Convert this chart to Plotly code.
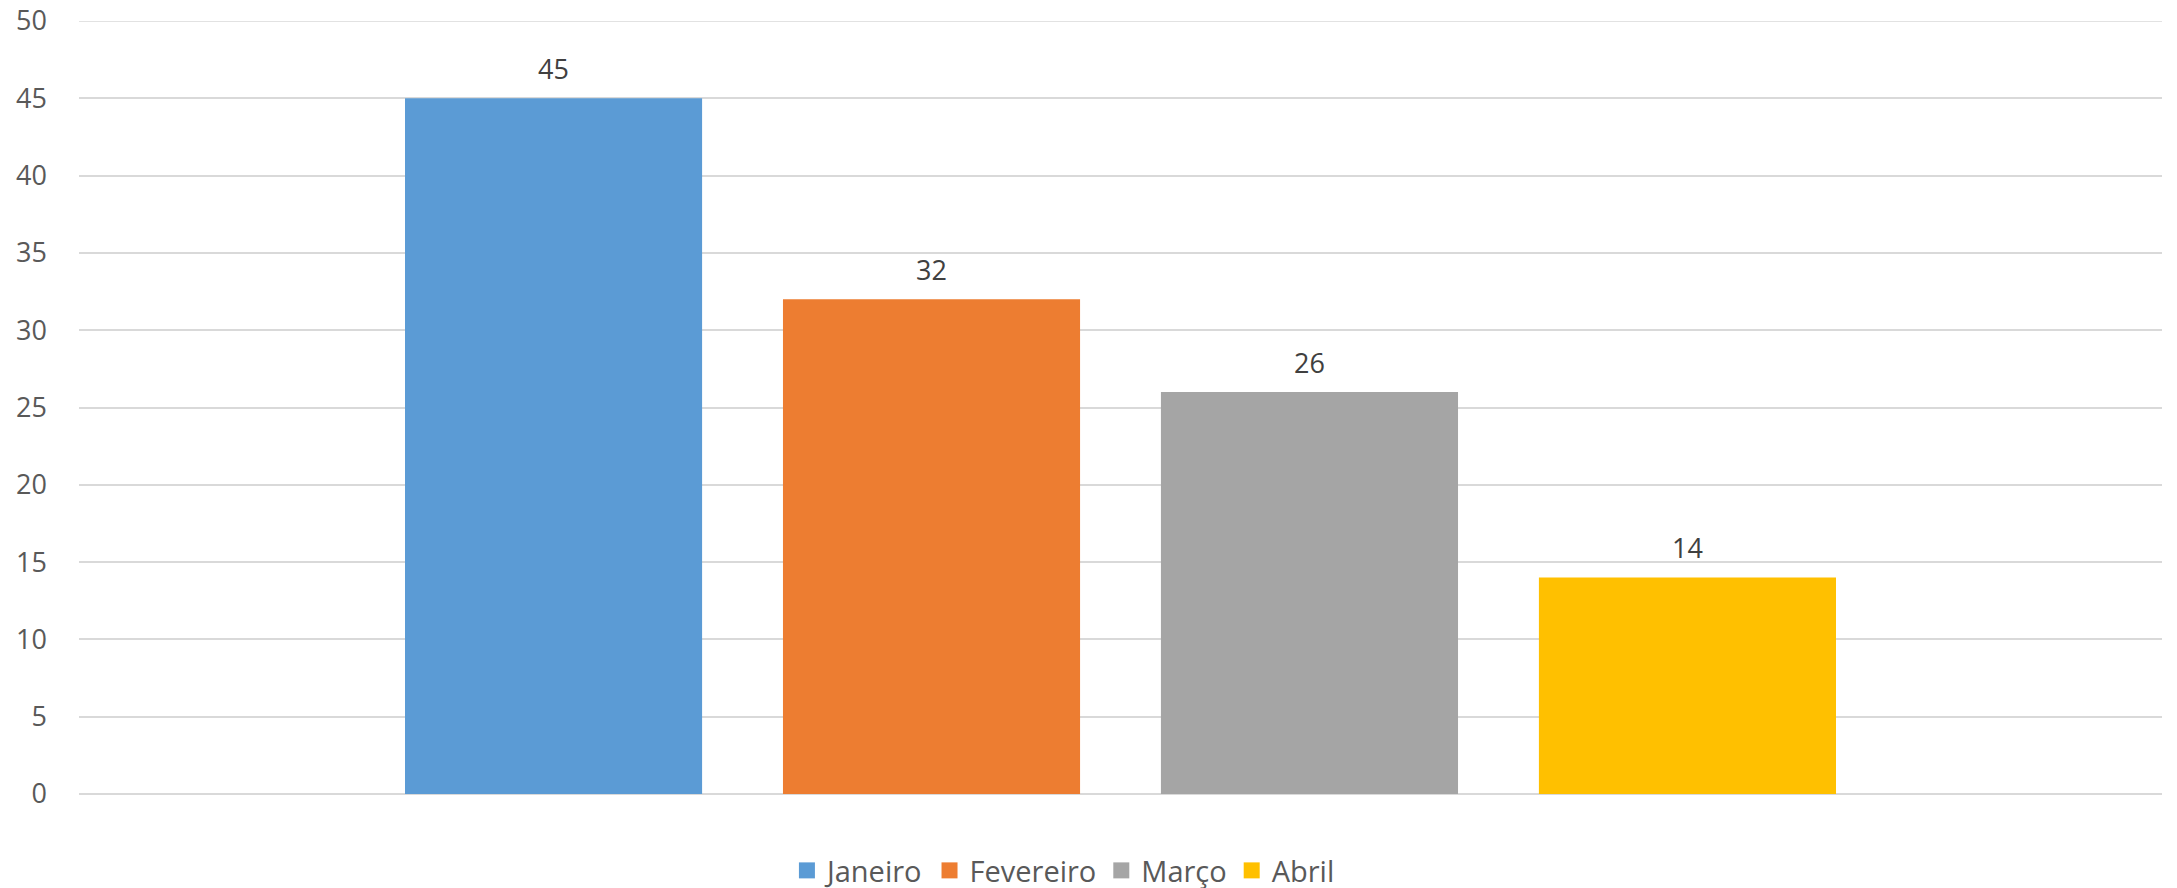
import plotly.graph_objects as go

series = ["Janeiro", "Fevereiro", "Março", "Abril"]
values = [45, 32, 26, 14]
colors = ["#5B9BD5", "#ED7D31", "#A5A5A5", "#FFC000"]
y_ticks = [0, 5, 10, 15, 20, 25, 30, 35, 40, 45, 50]

FONT = "Open Sans"
GRID = "#D9D9D9"

fig = go.Figure()
for name, val, col in zip(series, values, colors):
    fig.add_trace(go.Bar(x=[name], y=[val], name=name, marker=dict(color=col, line=dict(width=0)),
                         hoverinfo="skip", showlegend=False))
    fig.add_annotation(x=name, y=val, text=str(val), showarrow=False, yanchor="middle", yshift=30,
                       font=dict(family=FONT, size=27, color="#404040"))
# legend entries with larger square swatches
for name, col in zip(series, colors):
    fig.add_trace(go.Scatter(x=[None], y=[None], mode="markers", name=name,
                             marker=dict(symbol="square", size=18, color=col, line=dict(width=0)),
                             hoverinfo="skip"))

# top gridline (at the range edge)
fig.add_shape(type="line", xref="paper", x0=0, x1=1, yref="y", y0=max(y_ticks), y1=max(y_ticks),
              line=dict(color=GRID, width=1.5), layer="below")

fig.update_layout(
    width=2169, height=880,
    margin=dict(l=71, r=15, t=13, b=94, autoexpand=False),
    paper_bgcolor="white", plot_bgcolor="white",
    barmode="overlay", bargap=0.214,
    showlegend=True,
    legend=dict(orientation="h", x=0.4726, xanchor="center", y=-0.099, yanchor="middle",
                font=dict(family=FONT, size=29, color="#595959"), itemwidth=30,
                traceorder="normal", bgcolor="rgba(0,0,0,0)"),
    font=dict(family=FONT, color="#595959"),
)
fig.update_xaxes(type="category", range=[-1.2555, 4.2555], showticklabels=False, showgrid=False,
                 showline=False, zeroline=False, ticks="", automargin=False)
fig.update_yaxes(range=[0, 50], tickvals=y_ticks, showgrid=True, gridcolor=GRID, gridwidth=1.5,
                 zeroline=True, zerolinecolor=GRID, zerolinewidth=1.5, showline=False,
                 tickfont=dict(family=FONT, size=27, color="#595959"), ticklabelstandoff=31,
                 ticklabeloverflow="allow", automargin=False)

fig.write_html("out.html")
